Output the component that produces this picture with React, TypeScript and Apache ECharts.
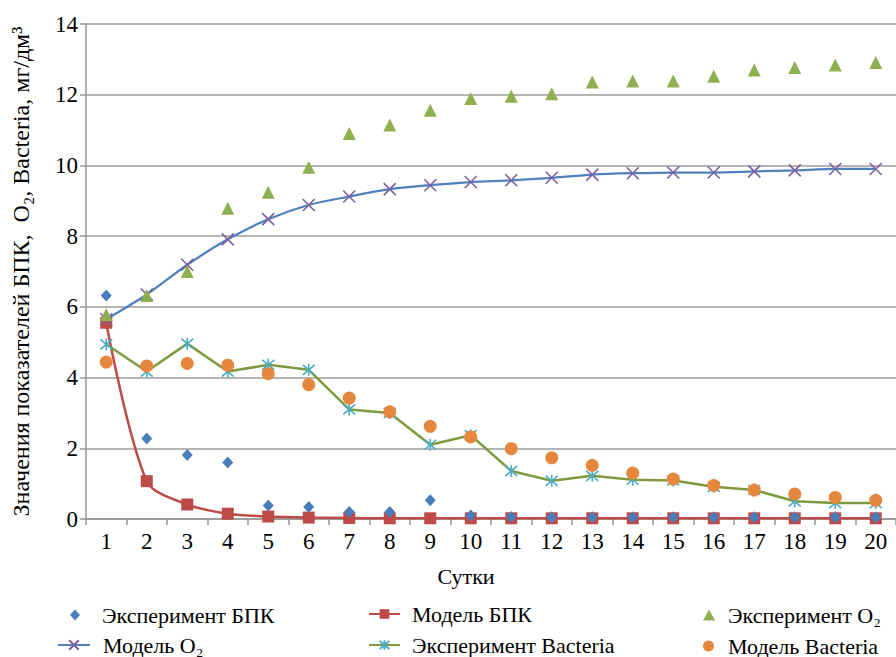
import React, { useEffect, useRef } from "react";
import * as echarts from "echarts";

const days = ["1", "2", "3", "4", "5", "6", "7", "8", "9", "10", "11", "12", "13", "14", "15", "16", "17", "18", "19", "20"];

const expBPK = [6.32, 2.28, 1.81, 1.6, 0.38, 0.34, 0.2, 0.2, 0.53, 0.1, 0.06, 0.05, 0.05, 0.05, 0.05, 0.05, 0.05, 0.05, 0.05, 0.05];
const modelBPK = [5.55, 1.07, 0.41, 0.15, 0.07, 0.04, 0.03, 0.02, 0.02, 0.02, 0.02, 0.02, 0.02, 0.02, 0.02, 0.02, 0.02, 0.02, 0.02, 0.02];
const expO2 = [5.78, 6.32, 7.0, 8.79, 9.24, 9.95, 10.9, 11.14, 11.56, 11.89, 11.96, 12.03, 12.36, 12.39, 12.39, 12.52, 12.7, 12.77, 12.84, 12.91];
const modelO2 = [5.65, 6.35, 7.19, 7.91, 8.48, 8.88, 9.12, 9.33, 9.44, 9.53, 9.58, 9.65, 9.74, 9.78, 9.8, 9.8, 9.83, 9.86, 9.9, 9.9];
const expBacteria = [4.94, 4.17, 4.96, 4.17, 4.36, 4.22, 3.1, 3.0, 2.1, 2.37, 1.36, 1.08, 1.22, 1.11, 1.09, 0.91, 0.82, 0.5, 0.45, 0.45];
const modelBacteria = [4.44, 4.33, 4.4, 4.35, 4.11, 3.8, 3.42, 3.03, 2.62, 2.32, 1.99, 1.73, 1.52, 1.3, 1.13, 0.95, 0.82, 0.71, 0.61, 0.53];

const names = {
  expBPK: "Эксперимент БПК",
  modelBPK: "Модель БПК",
  expO2: "Эксперимент O₂",
  modelO2: "Модель O₂",
  expBac: "Эксперимент Bacteria",
  modelBac: "Модель Bacteria",
};

const FONT = "Liberation Serif";
const X_PATH = "path://M0,0L10,10M10,0L0,10";
const STAR_PATH = "path://M0,0L10,10M10,0L0,10M5,-1L5,11";

export default function App() {
  const ref = useRef<HTMLDivElement>(null);
  useEffect(() => {
    document.body.style.margin = "0";
    const chart = echarts.init(ref.current!, null, { renderer: "svg" });
    const legendText = (pad: number) => ({
      fontFamily: FONT,
      fontSize: 22,
      color: "#000",
      padding: [0, 0, 0, pad],
    });
    const mkLegend = (name: string, left: number, top: number, w: number, h: number, pad: number) => ({
      data: [name],
      left,
      top,
      padding: 0,
      itemWidth: w,
      itemHeight: h,
      symbolKeepAspect: true,
      selectedMode: false,
      textStyle: legendText(pad),
    });
    chart.setOption({
      animation: false,
      backgroundColor: "#fff",
      grid: { left: 86, right: 0, top: 24, bottom: 138, containLabel: false },
      legend: [
        mkLegend(names.expBPK, 70, 604, 10, 11, 17),
        mkLegend(names.modelBPK, 368, 603, 31, 12, 7),
        mkLegend(names.expO2, 703, 604, 12, 11, 8),
        mkLegend(names.modelO2, 57, 634, 32, 12, 8),
        mkLegend(names.expBac, 368, 634, 31, 12, 7),
        mkLegend(names.modelBac, 703, 635, 11, 11, 9),
      ],
      xAxis: {
        type: "category",
        data: days,
        boundaryGap: true,
        name: "Сутки",
        nameLocation: "middle",
        nameGap: 46,
        nameTextStyle: { fontFamily: FONT, fontSize: 22, color: "#000", padding: [0, 50, 0, 0] },
        axisLine: { show: true, lineStyle: { color: "#969696", width: 1.5 } },
        axisTick: { show: true, length: 6, lineStyle: { color: "#969696", width: 1.5 } },
        axisLabel: { fontFamily: FONT, fontSize: 23, color: "#000", margin: 11, interval: 0 },
        splitLine: { show: false },
      },
      yAxis: {
        type: "value",
        min: 0,
        max: 14,
        interval: 2,
        name: "Значения показателей БПК,  O₂, Bacteria, мг/дм³",
        nameLocation: "middle",
        nameGap: 53,
        nameRotate: 90,
        nameTextStyle: { fontFamily: FONT, fontSize: 24, color: "#000" },
        axisLine: { show: true, lineStyle: { color: "#969696", width: 1.5 } },
        axisTick: { show: true, length: 6, lineStyle: { color: "#969696", width: 1.5 } },
        axisLabel: { fontFamily: FONT, fontSize: 23, color: "#000", margin: 8 },
        splitLine: { show: true, lineStyle: { color: "#9C9C9C", width: 1.5 } },
      },
      series: [
        {
          name: names.modelBPK,
          type: "line",
          data: modelBPK,
          smooth: 0.3,
          symbol: "rect",
          symbolSize: 12,
          lineStyle: { color: "#BE4B48", width: 2.5 },
          itemStyle: { color: "#BE4B48" },
          z: 2,
        },
        {
          name: names.modelO2,
          type: "line",
          data: modelO2,
          smooth: 0.3,
          symbol: X_PATH,
          symbolSize: 12,
          lineStyle: { color: "#4F81BD", width: 2.25 },
          itemStyle: { color: "#7E5FA0", borderColor: "#7E5FA0", borderWidth: 1.6 },
          z: 3,
        },
        {
          name: names.expBac,
          type: "line",
          data: expBacteria,
          smooth: false,
          symbol: STAR_PATH,
          symbolSize: 12,
          lineStyle: { color: "#7F9A3E", width: 2.5 },
          itemStyle: { color: "#4BACC6", borderColor: "#4BACC6", borderWidth: 1.6 },
          z: 4,
        },
        {
          name: names.expBPK,
          type: "scatter",
          data: expBPK,
          symbol: "diamond",
          symbolSize: [11, 12],
          itemStyle: { color: "#4A7EBB", opacity: 1 },
          z: 5,
        },
        {
          name: names.expO2,
          type: "scatter",
          data: expO2,
          symbol: "triangle",
          symbolSize: [13, 13],
          itemStyle: { color: "#8FB04E", opacity: 1 },
          z: 6,
        },
        {
          name: names.modelBac,
          type: "scatter",
          data: modelBacteria,
          symbol: "circle",
          symbolSize: 13,
          itemStyle: { color: "#E5873C", opacity: 1 },
          z: 7,
        },
      ],
    });
    return () => chart.dispose();
  }, []);
  return <div ref={ref} style={{ width: 896, height: 657 }} />;
}
